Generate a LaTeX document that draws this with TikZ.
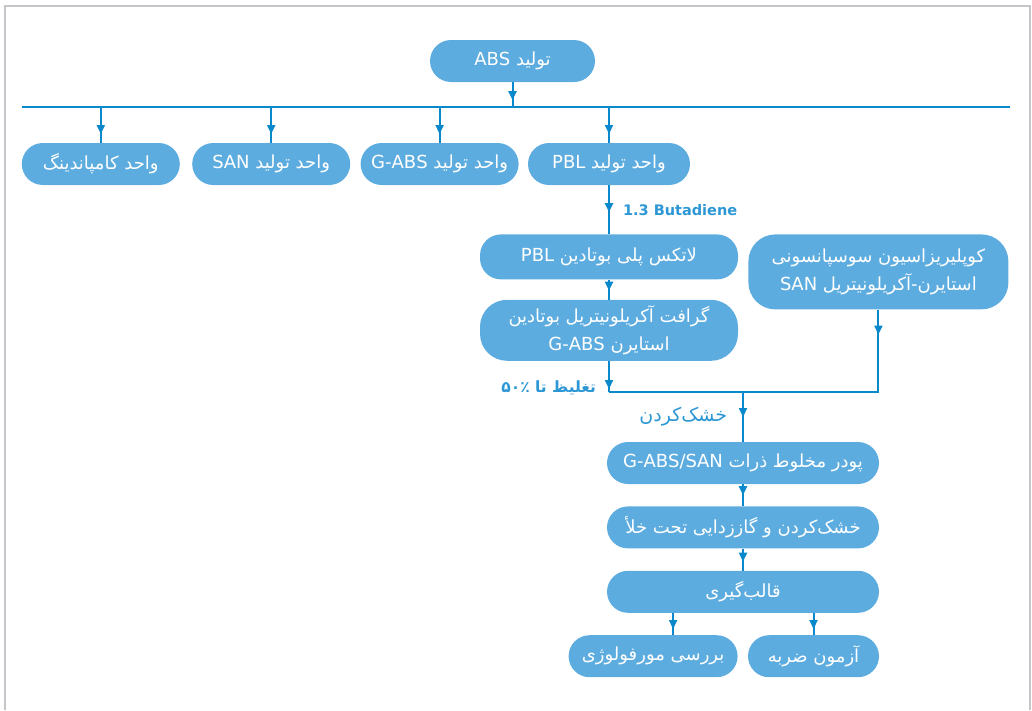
\documentclass[tikz,border=0pt]{standalone}
\usepackage{fontspec}
\setmainfont{DejaVu Sans}
\newfontfamily\fa[Script=Arabic,HyphenChar=None]{DejaVu Sans}
\TeXXeTstate=1
\usepackage{xcolor}
\definecolor{BoxBlue}{HTML}{5DACE0}
\definecolor{LineBlue}{HTML}{0A88CC}
\definecolor{LabelBlue}{HTML}{2C97D4}
\definecolor{FrameGray}{HTML}{C6C6CA}
\usepackage{tikz}
\usetikzlibrary{positioning, arrows.meta, decorations.markings}
\newcommand{\fatext}[1]{{\fa\beginR #1\endR}}

\begin{document}
\begin{tikzpicture}[x=1pt, y=-1pt,
    pill/.style={fill=BoxBlue, text=white, rounded corners=21pt,
                 minimum height=42pt, inner sep=2pt, align=center,
                 font=\fontsize{18}{28}\selectfont},
    bigpill/.style={pill, rounded corners=27pt},
    conn/.style={draw=LineBlue, line width=2pt},
    midarr/.style={conn, postaction={decorate}, decoration={markings,
                   mark=at position #1 with {\arrow{Triangle[length=9pt, width=8pt]}}}},
    lbl/.style={text=LabelBlue, inner sep=2pt, font=\fontsize{14.5}{18}\selectfont\bfseries}
  ]
    \useasboundingbox (0,0) rectangle (1032,710);
    \draw[FrameGray, line width=2pt] (4.5,710) |- (1030,6) -- (1030,710);

    % top and the bus
    \node[pill, minimum width=165pt] (abs) at (512.5,61) {\fatext{تولید ABS}};
    \coordinate (busL) at (22,107);
    \coordinate (busR) at (1010,107);

    % units
    \node[pill, minimum width=162pt] (pbl) at (609,164) {\fatext{واحد تولید PBL}};
    \node[pill, minimum width=158pt, left=9pt of pbl] (gabs) {\fatext{واحد تولید G-ABS}};
    \node[pill, minimum width=158pt, left=10pt of gabs] (san) {\fatext{واحد تولید SAN}};
    \node[pill, minimum width=158pt, left=12pt of san] (comp) {\fatext{واحد کامپاندینگ}};

    % process
    \node[pill, minimum width=258pt, minimum height=45pt, below=49pt of pbl] (latex) {\fatext{لاتکس پلی بوتادین PBL}};
    \node[bigpill, minimum width=258pt, minimum height=61pt, below=20pt of latex] (graft)
        {\fatext{گرافت آکریلونیتریل بوتادین}\\\fatext{استایرن G-ABS}};
    \node[bigpill, minimum width=260pt, minimum height=75pt,
          right=10pt of latex.north east, anchor=north west] (sanc)
        {\fatext{کوپلیریزاسیون سوسپانسونی}\\\fatext{استایرن-آکریلونیتریل SAN}};
    \coordinate (j1) at (609,392);

    \node[pill, minimum width=272pt] (powder) at (743,463) {\fatext{پودر مخلوط ذرات G-ABS/SAN}};
    \node[pill, minimum width=272pt, below=22pt of powder] (vacuum) {\fatext{خشک‌کردن و گاززدایی تحت خلأ}};
    \node[pill, minimum width=272pt, below=22pt of vacuum] (mold) {\fatext{قالب‌گیری}};
    \node[pill, minimum width=131pt, below=22pt of mold.south east, anchor=north east] (impact) {\fatext{آزمون ضربه}};
    \node[pill, minimum width=169pt, left=10pt of impact] (morph) {\fatext{بررسی مورفولوژی}};

    % connectors
    \draw[conn, line width=2.5pt] (busL) -- (busR);
    \draw[midarr=18pt] (abs) -- (abs |- busL);
    \foreach \n in {comp, san, gabs, pbl}
      \draw[midarr=27pt] (\n.north |- busL) -- (\n.north);
    \draw[midarr=27pt] (pbl) -- node[lbl, right=11pt] {1.3 Butadiene} (latex);
    \draw[midarr=11pt] (latex) -- (graft);
    \draw[midarr=28pt] (graft) -- node[lbl, pos=0.875, left=10pt, font=\fontsize{15.5}{18}\selectfont\bfseries] {\fatext{تغلیظ تا ۵۰٪}} (j1);
    \draw[midarr=25pt] (sanc.south) |- (j1);
    \draw[midarr=25pt] (powder.north |- j1) -- node[lbl, left=13pt, font=\fontsize{19}{20}\selectfont] {\fatext{خشک‌کردن}} (powder);
    \draw[midarr=11pt] (powder) -- (vacuum);
    \draw[midarr=13pt] (vacuum) -- (mold);
    \draw[midarr=16pt] (mold.south -| impact.north) -- (impact);
    \draw[midarr=16pt] ([xshift=20pt]morph.north |- mold.south) -- ([xshift=20pt]morph.north);
\end{tikzpicture}
\end{document}
